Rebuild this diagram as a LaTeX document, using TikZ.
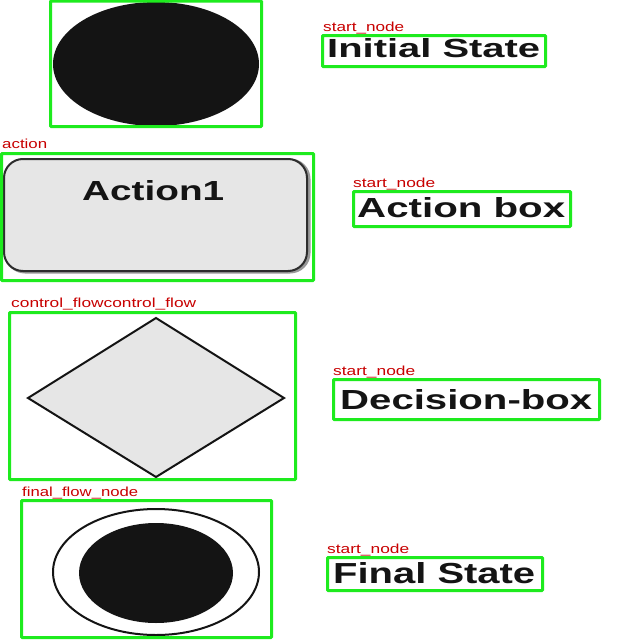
\documentclass[tikz,border=0pt]{standalone}
\usepackage{graphicx}
\usepackage{fontspec}
\setmainfont{Liberation Sans}
\definecolor{annot}{RGB}{30,235,30}
\definecolor{lblred}{RGB}{200,0,0}
\definecolor{shapefill}{RGB}{230,230,230}
\definecolor{ink}{RGB}{20,20,20}
\definecolor{boxedge}{RGB}{45,45,45}
\tikzset{
  annotbox/.style={draw=annot, line width=3pt, rounded corners=0.8pt},
  lbl/.style={anchor=base west, inner sep=0pt, text=lblred},
  bigtext/.style={anchor=base west, inner sep=0pt, text=ink},
  outline/.style={draw=ink, line width=2pt},
}
\newcommand{\fitlbl}[2]{\resizebox{#1pt}{9.5pt}{#2}}
\newcommand{\fittxt}[3]{\resizebox{#1pt}{#2pt}{\bfseries #3}}
\begin{document}
\begin{tikzpicture}[x=1pt,y=-1pt]
\useasboundingbox (0,0) rectangle (640,640);
\fill[white] (0,0) rectangle (640,640);

% initial state
\fill[ink] (156,64) ellipse [x radius=103, y radius=62];
\draw[annotbox] (50.5,1) rectangle (261.5,126.5);

% action
\draw[draw=gray!80, line width=3pt, rounded corners=19pt] (6,160) rectangle (309,272);
\draw[draw=boxedge, line width=2pt, fill=shapefill, rounded corners=19pt] (4,159) rectangle (307,271);
\node[bigtext] (action1) at (82,200) {\fittxt{142}{20}{Action1}};
\draw[annotbox] (1.5,153.5) rectangle (313.5,280.5);
\node[lbl] (lblaction) at (2,148) {\fitlbl{45}{action}};

% decision
\draw[outline, fill=shapefill, line join=miter] (156,318) -- (284,398) -- (156,477) -- (28,398) -- cycle;
\draw[annotbox] (9.5,312.5) rectangle (295.5,479.5);
\node[lbl] (lblcf) at (11,307) {\fitlbl{185}{control\_flowcontrol\_flow}};

% final state
\draw[outline] (156,572) ellipse [x radius=103, y radius=63];
\fill[ink] (156,573) ellipse [x radius=77, y radius=50];
\draw[annotbox] (21.5,500.5) rectangle (271.5,637.5);
\node[lbl] (lblfinal) at (22,496) {\fitlbl{116}{final\_flow\_node}};

% right column
\draw[annotbox] (322.5,35.5) rectangle (545.5,66.5);
\node[lbl] (lbls1) at (323,31) {\fitlbl{81}{start\_node}};
\node[bigtext] (txt1) at (327,57) {\fittxt{213}{19}{Initial State}};

\draw[annotbox] (353.5,191.5) rectangle (570.5,226.5);
\node[lbl] (lbls2) at (353,187) {\fitlbl{82}{start\_node}};
\node[bigtext] (txt2) at (357,217) {\fittxt{208}{20}{Action box}};

\draw[annotbox] (333.5,379.5) rectangle (599.5,419.5);
\node[lbl] (lbls3) at (333,375) {\fitlbl{82}{start\_node}};
\node[bigtext] (txt3) at (340,409) {\fittxt{252}{20}{Decision-box}};

\draw[annotbox] (327.5,557.5) rectangle (542.5,590.5);
\node[lbl] (lbls4) at (327,553) {\fitlbl{82}{start\_node}};
\node[bigtext] (txt4) at (333,583) {\fittxt{202}{21}{Final State}};
\end{tikzpicture}
\end{document}
